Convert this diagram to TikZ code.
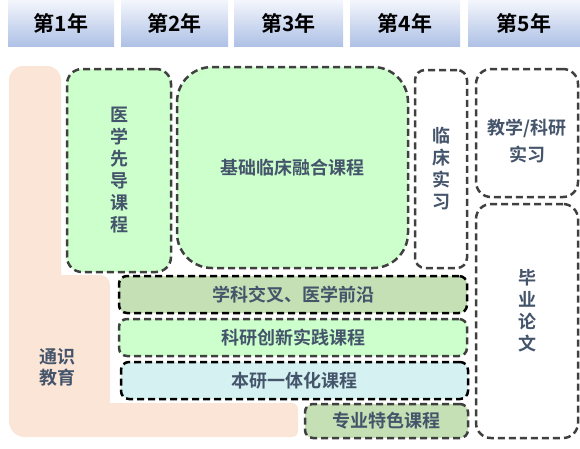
\documentclass[tikz,border=0pt]{standalone}
\usepackage{fontspec}
\setmainfont{Noto Sans CJK SC}[BoldFont={* Bold}]
\usepackage{xcolor}
\definecolor{peach}{HTML}{FBE5D6}
\definecolor{mint}{HTML}{CCFFCC}
\definecolor{olive}{HTML}{C5E0B4}
\definecolor{aqua}{HTML}{D5F1F1}
\definecolor{slate}{HTML}{44546A}
\definecolor{edge}{HTML}{404040}
\definecolor{hdrtop}{HTML}{F4F6FC}
\definecolor{hdrbot}{HTML}{AEC1E6}
\usetikzlibrary{positioning}

\begin{document}
\begin{tikzpicture}[x=1pt,y=-1pt,
 year/.style={minimum height=46pt,inner sep=0pt,top color=hdrtop,bottom color=hdrbot,font=\fontsize{21}{24}\selectfont\bfseries},
 course/.style={draw=edge,line width=2.5pt,dash pattern=on 7pt off 4pt,inner sep=0pt,align=center,text=slate,font=\fontsize{18}{22}\selectfont\bfseries},
 lbl/.style={text=slate,align=center,font=\fontsize{18}{22}\selectfont\bfseries},
 bar/.style={course,minimum height=37pt,rounded corners=8pt}]
 \useasboundingbox (0,0) rectangle (580,448);
 % year headers
 \node[year,minimum width=106pt] (y1) at (61,23) {第1年};
 \node[year,minimum width=107pt] (y2) at (174.5,23) {第2年};
 \node[year,minimum width=109pt] (y3) at (288.5,23) {第3年};
 \node[year,minimum width=110pt] (y4) at (405,23) {第4年};
 \node[year,minimum width=112pt] (y5) at (524,23) {第5年};
 % general education band
 \fill[peach] (9,200) [rounded corners=14pt] -- (9,66) -- (61,66) [sharp corners] -- (61,275)
  [rounded corners=10pt] -- (110,275) [sharp corners] -- (110,403) [rounded corners=6pt] -- (298,403)
  -- (298,437) [rounded corners=16pt] -- (9,437) [sharp corners] -- cycle;
 \node[lbl,font=\fontsize{18}{21}\selectfont\bfseries] (gen) at (57,367) {通识\\教育};
 % course blocks
 \node[course,fill=mint,rounded corners=15pt,minimum width=104pt,minimum height=203pt] (pre) at (119,170.5) {医\\学\\先\\导\\课\\程};
 \node[course,fill=mint,rounded corners=35pt,minimum width=231pt,minimum height=201pt] (fuse) at (292.5,167.5) {基础临床融合课程};
 \node[course,fill=white,rounded corners=10pt,minimum width=52pt,minimum height=198pt] (clin) at (441,169) {临\\床\\实\\习};
 \node[course,fill=white,rounded corners=15pt,minimum width=102pt,minimum height=128pt] (teach) at (527,133) {};
 \node[lbl,font=\fontsize{18}{27}\selectfont\bfseries] (teachtxt) at ([yshift=-8pt]teach.center) {教学/科研\\实习};
 \node[course,fill=white,rounded corners=15pt,minimum width=102pt,minimum height=234pt] (thesis) at (527,321) {};
 \node[lbl] (thesistxt) at ([yshift=10pt]thesis.center) {毕\\业\\论\\文};
 \node[bar,draw=black,fill=olive,minimum width=348pt] (cross) at (293,294.5) {学科交叉、医学前沿};
 \node[bar,fill=mint,minimum width=348pt] (innov) at (293,337.5) {科研创新实践课程};
 \node[bar,draw=black,fill=aqua,minimum width=347pt] (integ) at (294.5,380.5) {本研一体化课程};
 \node[bar,fill=olive,minimum width=163pt,minimum height=34pt] (spec) at (386.5,421) {专业特色课程};
\end{tikzpicture}
\end{document}
